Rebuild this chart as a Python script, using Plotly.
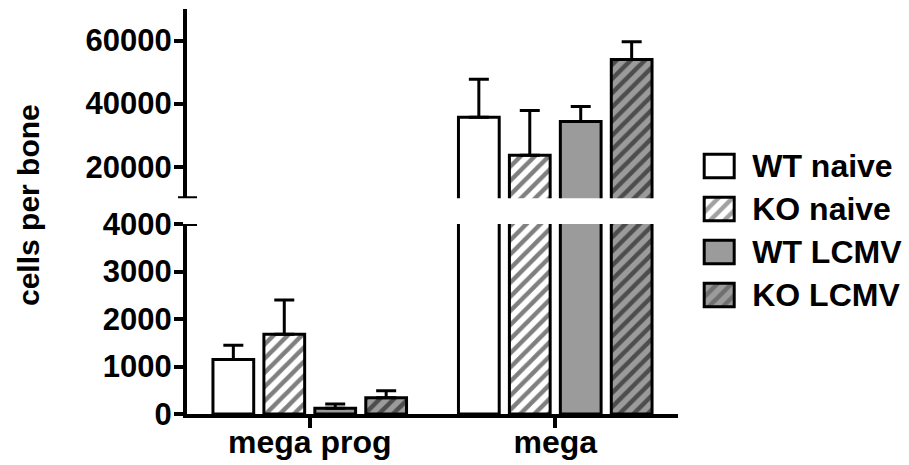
import plotly.graph_objects as go

categories = ["mega prog", "mega"]
series = ["WT naive", "KO naive", "WT LCMV", "KO LCMV"]
means = {
    "WT naive": [1150, 35700],
    "KO naive": [1680, 23600],
    "WT LCMV": [120, 34350],
    "KO LCMV": [340, 53950],
}
upper_err = {  # top of error bar
    "WT naive": [1450, 47750],
    "KO naive": [2400, 37800],
    "WT LCMV": [210, 39050],
    "KO LCMV": [490, 59650],
}
fill_colors = {"WT naive": "#ffffff", "KO naive": "#ffffff", "WT LCMV": "#9b9b9b", "KO LCMV": "#9b9b9b"}
hatch = {"WT naive": "", "KO naive": "/", "WT LCMV": "", "KO LCMV": "/"}

lower_ticks = [0, 1000, 2000, 3000, 4000]
upper_ticks = [20000, 40000, 60000]
lower_range = [0, 4000]
upper_range = [10000, 70000]

FAM = "Liberation Sans, Arial, sans-serif"
TICKFONT = dict(family=FAM, size=31, color="black", weight="bold")
BIGFONT = dict(family=FAM, size=32, color="black", weight="bold")
TITLEFONT = dict(family=FAM, size=30, color="black", weight="bold")
LW = 4
PW = 713.0  # plot area width in px (909 - 187 - 9)
PH = 405.0  # plot area height in px (465 - 9 - 51)

def px(xpix):
    return (xpix - 187) / PW

def py(ypix):
    return (414 - ypix) / PH

PATTERN_SIZE = 10
PATTERN_SOLID = 0.45

fig = go.Figure()

for xa, ya in [("x", "y"), ("x2", "y2")]:
    for s in series:
        fig.add_trace(go.Bar(
            x=categories, y=means[s], name=s, xaxis=xa, yaxis=ya, showlegend=False,
            marker=dict(color=fill_colors[s], line=dict(color="black", width=3),
                        pattern=dict(shape=hatch[s], fgcolor="black", bgcolor=fill_colors[s],
                                     size=PATTERN_SIZE, solidity=PATTERN_SOLID)),
            error_y=dict(type="data", symmetric=False,
                         array=[u - m for u, m in zip(upper_err[s], means[s])],
                         arrayminus=[0, 0], color="black", thickness=3, width=10),
        ))

# custom legend as a tiny bar subplot
fig.add_trace(go.Bar(
    x=[1] * len(series), y=series, orientation="h", xaxis="x3", yaxis="y3", showlegend=False,
    width=0.55,
    marker=dict(color=[fill_colors[s] for s in series], line=dict(color="black", width=3),
                pattern=dict(shape=[hatch[s] for s in series], fgcolor="black",
                             bgcolor=[fill_colors[s] for s in series],
                             size=PATTERN_SIZE, solidity=PATTERN_SOLID)),
    hoverinfo="skip",
))

axis_common = dict(showline=True, linecolor="black", linewidth=LW, ticks="outside",
                   tickcolor="black", tickwidth=LW, showgrid=False, zeroline=False,
                   automargin=False)

fig.update_layout(
    width=909, height=465,
    margin=dict(l=187, r=9, t=9, b=51, autoexpand=False),
    paper_bgcolor="white", plot_bgcolor="white",
    barmode="group", bargap=0.17, bargroupgap=0.2,
    showlegend=False,
    xaxis=dict(domain=[0, px(678)], range=[-0.5, 1.5], anchor="y", ticklen=10,
               ticklabelstandoff=-13, tickfont=BIGFONT, **axis_common),
    xaxis2=dict(domain=[0, px(678)], matches="x", anchor="y2", visible=False, automargin=False),
    yaxis=dict(domain=[0, py(224)], range=lower_range, tickvals=lower_ticks, tickformat="d",
               anchor="x", ticklen=9, ticklabelstandoff=-4, tickfont=TICKFONT, **axis_common),
    yaxis2=dict(domain=[py(198.2), 1.0], range=upper_range, tickvals=upper_ticks, tickformat="d",
                anchor="x2", ticklen=9, ticklabelstandoff=-4, tickfont=TICKFONT, **axis_common),
    xaxis3=dict(domain=[px(701.2), px(737.2)], range=[-0.1, 1.1], anchor="y3", visible=False,
                automargin=False),
    yaxis3=dict(domain=[py(316.5), py(144.5)], anchor="x3", side="right",
                categoryorder="array", categoryarray=series[::-1],
                showline=False, ticks="", showgrid=False, zeroline=False,
                tickfont=BIGFONT, ticklabelstandoff=14, automargin=False),
)

# broken-axis caps
fig.add_shape(type="line", xref="paper", yref="y2", x0=px(178), x1=px(197),
              y0=upper_range[0], y1=upper_range[0], line=dict(color="black", width=LW))
fig.add_shape(type="line", xref="paper", yref="y", x0=px(178), x1=px(197),
              y0=lower_range[1], y1=lower_range[1], line=dict(color="black", width=LW))

fig.add_annotation(text="cells per bone", xref="paper", yref="paper", x=px(28), y=py(205),
                   textangle=-90, showarrow=False, font=TITLEFONT,
                   xanchor="center", yanchor="middle")

fig.write_html("out.html", config={"displayModeBar": False},
               post_script="document.body.style.margin='0';document.body.style.overflow='hidden';")
